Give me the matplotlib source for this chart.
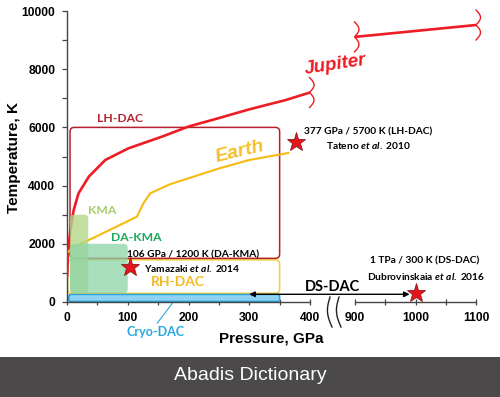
import numpy as np
import matplotlib
matplotlib.use('Agg')
import matplotlib.pyplot as plt
from matplotlib.patches import FancyBboxPatch, Rectangle
from matplotlib import transforms

# Pressure / temperature regions reached by the different techniques

# Jupiter adiabat (two pieces, the axis is broken between 400 and 900 GPa)
jup_p1 = [0.3, 1.6, 5.5, 11, 19, 36, 63, 101, 156, 200, 250, 300, 360, 400]
jup_t1 = [860, 1680, 2470, 3160, 3735, 4310, 4880, 5280, 5680, 6030, 6320, 6620, 6940, 7200]
jup_p2 = [900, 1100]
jup_t2 = [9110, 9520]

# Earth geotherm
earth_p = [3, 8, 47, 115, 126, 137, 170, 222, 252, 300, 364]
earth_t = [1730, 1860, 2240, 2930, 3400, 3735, 4050, 4400, 4600, 4880, 5120]

# technique boxes: pressure min/max, temperature min/max
box_names = ['RH-DAC', 'LH-DAC', 'Cryo-DAC', 'KMA', 'DA-KMA']
box_p0 = [1, 5, 3, 5, 5]
box_p1 = [350, 350, 350, 35, 100]
box_t0 = [300, 1500, 20, 300, 300]
box_t1 = [1450, 6000, 260, 3000, 2000]

# record experiments
rec_p = [377, 103, 1000]
rec_t = [5500, 1200, 300]
rec_line1 = ['377 GPa / 5700 K (LH-DAC)', '106 GPa / 1200 K (DA-KMA)', '1 TPa / 300 K (DS-DAC)']
rec_line2 = ['Tateno $\\it{et\\ al.}$ 2010', 'Yamazaki $\\it{et\\ al.}$ 2014',
             'Dubrovinskaia $\\it{et\\ al.}$ 2016']

# DS-DAC range arrow
ds_p = [300, 990]
ds_t = 265

xticks_major = [0, 100, 200, 300, 400, 900, 1000, 1100]
xticks_minor = [50, 150, 250, 350, 950, 1050]
yticks_major = [0, 2000, 4000, 6000, 8000, 10000]
yticks_minor = [1000, 3000, 5000, 7000, 9000]

GAP = 74.0  # width of the 400..900 gap in scale units


def fwd(p):
    p = np.asarray(p, dtype=float)
    return np.where(p <= 400, p,
                    np.where(p < 900, 400 + (p - 400) * GAP / 500.0, 400 + GAP + (p - 900)))


def inv(u):
    u = np.asarray(u, dtype=float)
    return np.where(u <= 400, u,
                    np.where(u < 400 + GAP, 400 + (u - 400) * 500.0 / GAP, u - 400 - GAP + 900))


plt.rcParams['font.family'] = ['Liberation Sans', 'DejaVu Sans']
plt.rcParams['mathtext.fontset'] = 'custom'
plt.rcParams['mathtext.it'] = 'Lato:italic:bold'
plt.rcParams['mathtext.rm'] = 'Lato:bold'

fig = plt.figure(figsize=(5, 3.97), dpi=100)
ax = fig.add_axes([0.134, 95 / 397, 0.8554, 291 / 397])
ax.set_xscale('function', functions=(fwd, inv))
ax.set_xlim(0, 1130)
ax.set_ylim(0, 10000)

ASPECT = (10000 / 291) / (1 / 0.6075)  # K per px / GPa per px

# boxes
edge = {'RH-DAC': '#f4cf3a', 'LH-DAC': '#b5202e', 'Cryo-DAC': '#2aa1d9', 'KMA': 'none', 'DA-KMA': 'none'}
face = {'RH-DAC': 'none', 'LH-DAC': 'none', 'Cryo-DAC': '#8ed3f4', 'KMA': '#b3d789', 'DA-KMA': '#8dd5a6'}
alpha = {'RH-DAC': 1, 'LH-DAC': 1, 'Cryo-DAC': 1, 'KMA': 0.8, 'DA-KMA': 0.75}
zord = {'RH-DAC': 2, 'LH-DAC': 2, 'Cryo-DAC': 2, 'KMA': 4, 'DA-KMA': 4}
for name, p0, p1, t0, t1 in zip(box_names, box_p0, box_p1, box_t0, box_t1):
    rad = 3 if name == 'Cryo-DAC' else 7
    patch = FancyBboxPatch((p0, t0), p1 - p0, t1 - t0,
                           boxstyle=f'round,pad=0,rounding_size={rad}',
                           mutation_aspect=ASPECT, facecolor=face[name], edgecolor=edge[name],
                           lw=1.1, alpha=alpha[name], zorder=zord[name])
    ax.add_patch(patch)

# curves
ax.plot(jup_p1, jup_t1, color='#ee1c24', lw=1.9, zorder=3, solid_capstyle='butt',
        solid_joinstyle='round')
ax.plot(jup_p2, jup_t2, color='#ee1c24', lw=1.9, zorder=3, solid_capstyle='butt')
ax.plot(earth_p, earth_t, color='#f6bb10', lw=1.5, zorder=3)

# stars
ax.plot(rec_p, rec_t, ls='none', marker='*', ms=14, mfc='#e8141c', mec='#8b1a1a', mew=0.6,
        zorder=6, clip_on=False)
offs1 = [(52, 7.2), (45.4, 8.6), (6.5, 23)]
offs2 = [(52, -2.9), (45.4, -0.7), (7.2, 12.2)]
for p, t, l1, l2, o1, o2 in zip(rec_p, rec_t, rec_line1, rec_line2, offs1, offs2):
    ax.annotate(l1, (p, t), xytext=o1, textcoords='offset points', ha='center', va='center',
                fontsize=7.3, family='Lato', fontweight='bold', zorder=7)
    ax.annotate(l2, (p, t), xytext=o2, textcoords='offset points', ha='center', va='center',
                fontsize=7.3, family='Lato', fontweight='bold', zorder=7)

# DS-DAC arrow
ax.annotate('', xy=(ds_p[0], ds_t), xytext=(ds_p[1], ds_t),
            arrowprops=dict(arrowstyle='<|-|>', color='black', lw=1.0, mutation_scale=8,
                            shrinkA=0, shrinkB=0), zorder=5)
ax.text(645, 515, 'DS-DAC', ha='center', va='center', fontsize=10.5, family='Lato',
        fontweight='bold', color='black')

# labels of regions
ax.text(87, 6320, 'LH-DAC', color='#b5202e', fontsize=8.7, family='Lato', fontweight='bold',
        ha='center', va='center')
ax.text(58, 3160, 'KMA', color='#a6cf6b', fontsize=8.7, family='Lato', fontweight='bold',
        ha='center', va='center')
ax.text(114, 2200, 'DA-KMA', color='#1aa85a', fontsize=8.7, family='Lato', fontweight='bold',
        ha='center', va='center')
ax.text(183, 690, 'RH-DAC', color='#f5b921', fontsize=10, family='Lato', fontweight='bold',
        ha='center', va='center')
ax.annotate('Cryo-DAC', xy=(174, -30), xytext=(145, -1030), textcoords='data',
            color='#29a8df', fontsize=9, family='Lato', fontweight='bold',
            ha='center', va='center', annotation_clip=False,
            arrowprops=dict(arrowstyle='-', color='#29a8df', lw=0.8, shrinkA=0, shrinkB=0,
                            relpos=(0.5, 1.0)))
ax.text(285, 5150, 'Earth', color='#f6c02a', fontsize=14, fontweight='bold', style='italic',
        rotation=13.5, rotation_mode='anchor', ha='center', va='center')
ax.annotate('Jupiter', (jup_p1[-1], jup_t1[-1]), xytext=(18, 20), textcoords='offset points',
            color='#ee1c24', fontsize=13.5, fontweight='bold', style='italic',
            rotation=8.7, rotation_mode='anchor', ha='center', va='center')


def squiggle(x, y, xs, ys, color, lw):
    tr = fig.dpi_scale_trans + transforms.ScaledTranslation(x, y, ax.transData)
    ax.plot(xs, ys, transform=tr, color=color, lw=lw, clip_on=False, zorder=5)


# break marks at the ends of the Jupiter pieces
tt = np.linspace(0, 1, 60)
for p, t in [(jup_p1[-1], jup_t1[-1]), (jup_p2[0], jup_t2[0]), (jup_p2[-1], jup_t2[-1])]:
    squiggle(p, t, 0.045 * np.abs(np.sin(2 * np.pi * tt)) - 0.005, 0.15 - 0.30 * tt, '#ee1c24', 1.0)

# axis break marks
for dx in (0.20, 0.29):
    squiggle(400, 0, dx - 0.035 * np.sin(np.pi * tt) + 0.02 * tt, 0.05 - 0.30 * tt, '#222222', 1.0)

# axes styling
axc = '#444444'
for s in ('top', 'right', 'bottom'):
    ax.spines[s].set_visible(False)
ax.spines['left'].set_color(axc)
ax.spines['left'].set_linewidth(1.0)
ax.plot([0, 400], [0, 0], color=axc, lw=1.0, clip_on=False, zorder=3)
ax.plot([900, 1100], [0, 0], color=axc, lw=1.0, clip_on=False, zorder=3)

ax.set_xticks(xticks_major)
ax.set_xticklabels([str(v) for v in xticks_major])
ax.set_xticks(xticks_minor, minor=True)
ax.set_yticks(yticks_major)
ax.set_yticklabels([str(v) for v in yticks_major])
ax.set_yticks(yticks_minor, minor=True)
ax.tick_params(axis='x', which='both', direction='inout', length=5, width=0.9, color=axc,
               labelsize=8.7, pad=4.5)
ax.tick_params(axis='y', which='both', direction='out', length=3.5, width=0.9, color=axc,
               labelsize=8.7, pad=5)
for lab in ax.get_xticklabels() + ax.get_yticklabels():
    lab.set_fontweight('bold')

ax.set_xlabel('Pressure, GPa', fontsize=11, fontweight='bold', va='center')
ax.xaxis.set_label_coords(0.477, -0.124)
ax.set_ylabel('Temperature, K', fontsize=11, fontweight='bold', va='center')
ax.yaxis.set_label_coords(-0.124, 0.495)

# bottom banner
fig.patches.append(Rectangle((0, 0), 1, 40 / 397, transform=fig.transFigure,
                             facecolor='#4b494a', edgecolor='none'))
fig.text(0.5, 21 / 397, 'Abadis Dictionary', color='white', fontsize=14, ha='center', va='center')

fig.savefig('out.png', dpi=100)
